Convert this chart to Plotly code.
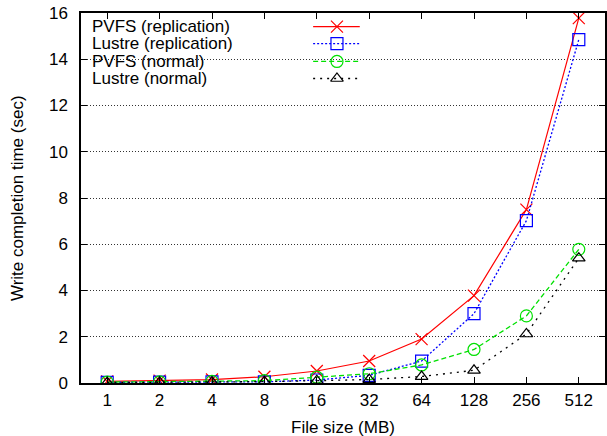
import plotly.graph_objects as go
import math

sizes = [1, 2, 4, 8, 16, 32, 64, 128, 256, 512]
size_labels = ["1", "2", "4", "8", "16", "32", "64", "128", "256", "512"]
pvfs_rep = [0.07, 0.10, 0.15, 0.27, 0.52, 0.95, 1.90, 3.78, 7.50, 15.78]
lustre_rep = [0.03, 0.04, 0.05, 0.05, 0.13, 0.33, 0.95, 3.00, 7.02, 14.85]
pvfs_norm = [0.04, 0.05, 0.07, 0.10, 0.25, 0.40, 0.78, 1.45, 2.90, 5.78]
lustre_norm = [0.02, 0.03, 0.04, 0.06, 0.10, 0.15, 0.28, 0.55, 2.12, 5.40]
series_names = ["PVFS (replication)", "Lustre (replication)", "PVFS (normal)", "Lustre (normal)"]
y_ticks = [0, 2, 4, 6, 8, 10, 12, 14, 16]

FONT = "Liberation Sans, Arial, sans-serif"

styles = [
    dict(color="#ff0000", dash="solid", symbol="x-thin-open", size=12, width=1.2),
    dict(color="#0000ff", dash="2px,2px", symbol="square-open", size=12, width=1.3),
    dict(color="#00e000", dash="5px,3px", symbol="circle-open", size=12, width=1.3),
    dict(color="#000000", dash="2px,5px", symbol="triangle-up-open", size=11, width=1.3),
]
data = [pvfs_rep, lustre_rep, pvfs_norm, lustre_norm]

fig = go.Figure()
for name, ys, st in zip(series_names, data, styles):
    fig.add_trace(go.Scatter(
        x=sizes, y=ys, mode="lines+markers", name=name, showlegend=False,
        line=dict(color=st["color"], dash=st["dash"], width=st["width"]),
        marker=dict(symbol=st["symbol"], size=st["size"], color=st["color"],
                    line=dict(color=st["color"], width=1.2)),
    ))

# manual legend (text left, sample right), in an overlay unit axis
row_y = [0.963, 0.917, 0.869, 0.823]
for name, st, ry in zip(series_names, styles, row_y):
    fig.add_trace(go.Scatter(
        x=[0.443, 0.4885, 0.532], y=[ry, ry, ry], xaxis="x2", yaxis="y2",
        mode="lines", showlegend=False, hoverinfo="skip",
        line=dict(color=st["color"], dash=st["dash"], width=st["width"]),
    ))
    fig.add_trace(go.Scatter(
        x=[0.4885], y=[ry], xaxis="x2", yaxis="y2",
        mode="markers", showlegend=False, hoverinfo="skip",
        marker=dict(symbol=st["symbol"], size=st["size"], color=st["color"],
                    line=dict(color=st["color"], width=1.2)),
    ))
    fig.add_annotation(x=0.018, y=ry, xref="paper", yref="paper", text=name,
                       showarrow=False, xanchor="left", yanchor="middle",
                       font=dict(family=FONT, size=17, color="black"))

fig.add_shape(type="rect", xref="paper", yref="paper", x0=0.003, x1=0.55, y0=0.80, y1=0.997,
              fillcolor="white", line=dict(width=0), layer="between")

# axis titles
fig.add_annotation(x=0.5, y=-0.119, xref="paper", yref="paper", text="File size (MB)",
                   showarrow=False, xanchor="center", yanchor="middle",
                   font=dict(family=FONT, size=17, color="black"))
fig.add_annotation(x=-0.122, y=0.5, xref="paper", yref="paper", text="Write completion time (sec)",
                   showarrow=False, xanchor="center", yanchor="middle", textangle=-90,
                   font=dict(family=FONT, size=17, color="black"))

lo = math.log10(1) - 0.5 * math.log10(2)
hi = math.log10(512) + 0.5 * math.log10(2)
fig.update_layout(
    width=607, height=436,
    margin=dict(l=81, r=2, t=13, b=53),
    paper_bgcolor="white", plot_bgcolor="white",
    font=dict(family=FONT, size=17, color="black"),
    xaxis=dict(type="log", range=[lo, hi], tickvals=sizes, ticktext=size_labels,
               ticks="inside", ticklen=6, tickcolor="black", mirror="allticks",
               showline=True, linecolor="black", linewidth=1.5, showgrid=False, zeroline=False,
               ticklabelstandoff=1, automargin=False),
    yaxis=dict(range=[0, 16], tickvals=y_ticks, ticks="inside", ticklen=6, tickcolor="black",
               mirror="allticks", showline=True, linecolor="black", linewidth=1.5,
               showgrid=True, gridcolor="#333333", griddash="1px,2px", gridwidth=1, zeroline=False,
               ticklabelstandoff=8, automargin=False),
    xaxis2=dict(overlaying="x", range=[0, 1], visible=False, fixedrange=True),
    yaxis2=dict(overlaying="y", range=[0, 1], visible=False, fixedrange=True),
)
fig.write_html("out.html", config={"displayModeBar": False},
               post_script="document.body.style.margin='0';document.body.style.overflow='hidden';")
